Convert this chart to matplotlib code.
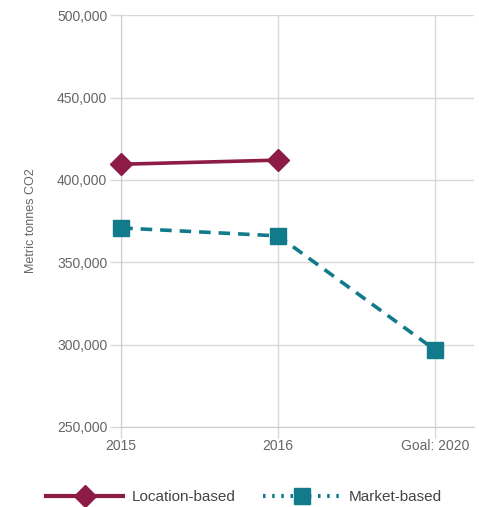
import matplotlib
matplotlib.use("Agg")
import matplotlib.pyplot as plt
from matplotlib.lines import Line2D
from matplotlib.ticker import FuncFormatter

plt.rcParams["font.family"] = ["Liberation Sans", "DejaVu Sans"]

categories = ["2015", "2016", "Goal: 2020"]
location_based = [409500, 412000]
market_based = [370800, 366000]
market_goal = 296800
y_ticks = [250000, 300000, 350000, 400000, 450000, 500000]

maroon = "#8c1c45"
teal = "#117a8b"
grid_c = "#d9d9d9"
text_c = "#666666"

fig = plt.figure(figsize=(4.79, 5.07), dpi=100)
ax = fig.add_axes([0.253, 0.158, 0.737, 0.812])

x = list(range(len(categories)))
ax.plot(x[:2], location_based, color=maroon, lw=2.6, marker="D", ms=11,
        zorder=3, clip_on=False)
ax.plot(x, market_based + [market_goal], color=teal, lw=2.6, ls=(0, (3.2, 2.2)),
        marker="s", ms=12, zorder=3, clip_on=False)

ax.set_xlim(0, 2.25)
ax.set_ylim(250000, 500000)
ax.set_xticks(x)
ax.set_xticklabels(categories)
ax.set_yticks(y_ticks)
ax.yaxis.set_major_formatter(FuncFormatter(lambda v, p: f"{int(v):,}"))
ax.grid(True, color=grid_c, lw=1)
ax.set_axisbelow(True)
for s in ["top", "right"]:
    ax.spines[s].set_visible(False)
ax.spines["left"].set_color("#cccccc")
ax.spines["bottom"].set_color("#cccccc")
ax.tick_params(colors=text_c, labelsize=10, length=8, width=1)
ax.tick_params(axis="both", color=grid_c)
ax.tick_params(axis="x", pad=1)
ax.tick_params(axis="y", pad=2)
ax.set_ylabel("Metric tonnes CO2", color=text_c, fontsize=9, labelpad=14)

handles = [
    Line2D([], [], color=maroon, lw=3, marker="D", ms=11),
    Line2D([], [], color=teal, lw=3, ls=(0, (0.6, 1.6)), marker="s", ms=12),
]
fig.legend(handles, ["Location-based", "Market-based"], loc="lower center",
           bbox_to_anchor=(0.51, -0.022), ncol=2, frameon=False, fontsize=11,
           labelcolor="#444444", handlelength=5, columnspacing=1.8,
           handletextpad=0.6)

fig.savefig("out.png", dpi=100)
